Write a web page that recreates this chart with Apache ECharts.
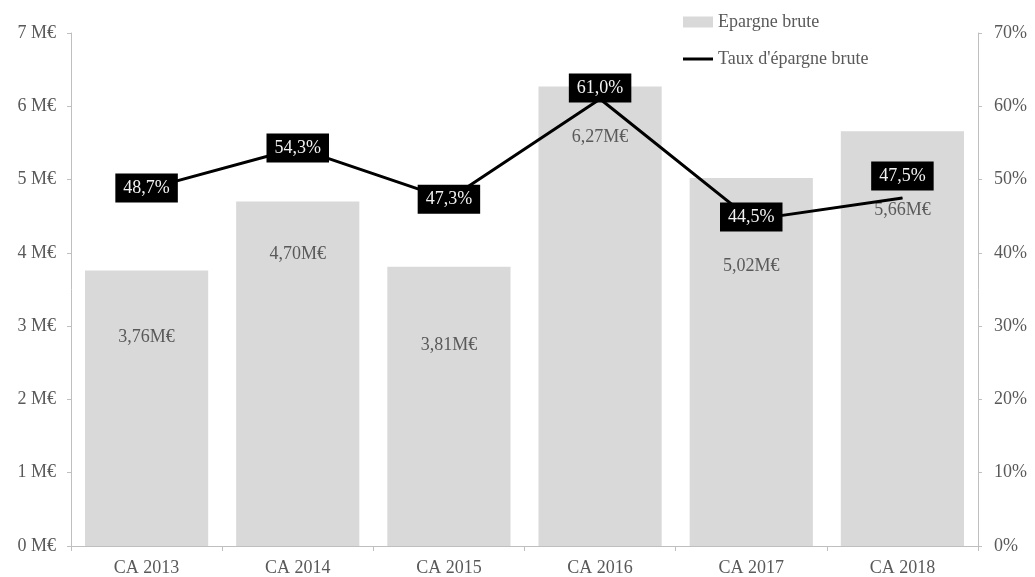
<!DOCTYPE html>
<html>
<head>
<meta charset="utf-8">
<script src="https://cdn.jsdelivr.net/npm/echarts@6/dist/echarts.min.js"></script>
<style>
  html, body { margin: 0; padding: 0; background: #fff; }
  #chart { width: 1035px; height: 577px; }
</style>
</head>
<body>
<div id="chart"></div>
<script>
// Categories and values
const categories = ['CA 2013', 'CA 2014', 'CA 2015', 'CA 2016', 'CA 2017', 'CA 2018'];
const epargneBrute = [3.76, 4.70, 3.81, 6.27, 5.02, 5.66];      // M€
const tauxEpargne = [48.7, 54.3, 47.3, 61.0, 44.5, 47.5];        // %

// Label placement tweaks (vertical offsets in px, per category)
const barLabelShift = [57, 43, 68, 41, 78, 69];
const lineLabelShift = [-1, 0, 0, -11, -3, -22];

const fontFamily = '"Liberation Serif", "DejaVu Serif", serif';
const fontSize = 18;
const textColor = '#595959';
const axisColor = '#bfbfbf';

const fmtComma = (v, d) => v.toFixed(d).replace('.', ',');

const chart = echarts.init(document.getElementById('chart'));
chart.setOption({
  animation: false,
  textStyle: { fontFamily: fontFamily },
  grid: { left: 71, right: 57, top: 33, bottom: 31 },
  legend: {
    orient: 'vertical',
    left: 678,
    top: 8,
    itemGap: 19,
    itemWidth: 30,
    itemHeight: 11,
    textStyle: { fontFamily: fontFamily, fontSize: fontSize, color: textColor },
    data: [
      { name: 'Epargne brute', icon: 'rect', itemStyle: { color: '#d9d9d9' } },
      { name: "Taux d'épargne brute", icon: 'path://M0,4 L30,4 L30,7 L0,7 Z', itemStyle: { color: '#000' } }
    ]
  },
  xAxis: {
    type: 'category',
    data: categories,
    axisLine: { lineStyle: { color: axisColor } },
    axisTick: { show: true, length: 5, lineStyle: { color: axisColor } },
    axisLabel: { color: textColor, fontSize: fontSize, fontFamily: fontFamily, margin: 13 }
  },
  yAxis: [
    {
      type: 'value', min: 0, max: 7, interval: 1,
      axisLine: { show: true, lineStyle: { color: axisColor } },
      axisTick: { show: true, length: 4, lineStyle: { color: axisColor } },
      splitLine: { show: false },
      axisLabel: { color: textColor, fontSize: fontSize, fontFamily: fontFamily, margin: 15,
                   formatter: v => v + ' M€' }
    },
    {
      type: 'value', min: 0, max: 70, interval: 10,
      axisLine: { show: true, lineStyle: { color: axisColor } },
      axisTick: { show: true, length: 4, lineStyle: { color: axisColor } },
      splitLine: { show: false },
      axisLabel: { color: textColor, fontSize: fontSize, fontFamily: fontFamily, margin: 16,
                   formatter: v => v + '%' }
    }
  ],
  series: [
    {
      name: 'Epargne brute',
      type: 'bar',
      yAxisIndex: 0,
      barCategoryGap: '18.5%',
      itemStyle: { color: '#d9d9d9' },
      data: epargneBrute.map((v, i) => ({
        value: v,
        label: { offset: [0, barLabelShift[i]] }
      })),
      label: {
        show: true,
        position: 'insideTop',
        distance: 0,
        color: textColor,
        fontSize: fontSize,
        fontFamily: fontFamily,
        lineHeight: 20,
        formatter: p => fmtComma(p.value, 2) + 'M€'
      }
    },
    {
      name: "Taux d'épargne brute",
      type: 'line',
      yAxisIndex: 1,
      symbol: 'circle',
      symbolSize: 1,
      showSymbol: true,
      lineStyle: { color: '#000', width: 3 },
      itemStyle: { color: '#000' },
      z: 5,
      data: tauxEpargne.map((v, i) => ({
        value: v,
        label: { offset: [0, lineLabelShift[i]] }
      })),
      label: {
        show: true,
        position: 'inside',
        color: '#f2f2f2',
        backgroundColor: '#000',
        padding: [6, 8, 5, 8],
        fontSize: fontSize,
        fontFamily: fontFamily,
        formatter: p => fmtComma(p.value, 1) + '%'
      }
    }
  ]
});
</script>
</body>
</html>
